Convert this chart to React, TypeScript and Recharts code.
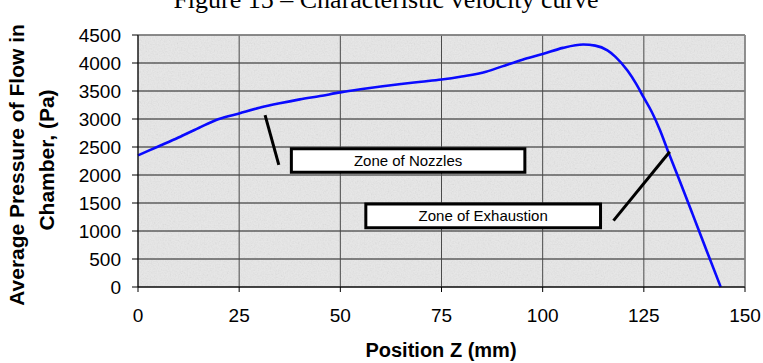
import React from 'react';
import {
  LineChart,
  Line,
  XAxis,
  YAxis,
  CartesianGrid,
  ReferenceArea,
  ReferenceLine,
} from 'recharts';

// Position along the chamber (mm) and average pressure (Pa)
const positionMm = [
  0, 5, 10, 15, 20, 25, 30, 35, 40, 45, 50, 55, 60, 65, 70, 75, 80, 86, 90, 95,
  100, 105, 110, 113, 116, 118, 121, 123, 125, 127, 129, 131, 134, 137, 140, 144,
];
const pressurePa = [
  2350, 2510, 2670, 2840, 3000, 3100, 3200, 3280, 3350, 3410, 3475, 3530, 3580,
  3625, 3665, 3705, 3760, 3845, 3940, 4060, 4160, 4270, 4330, 4310, 4225, 4110,
  3860, 3640, 3380, 3120, 2800, 2420, 1870, 1310, 745, 0,
];

const xTicks = [0, 25, 50, 75, 100, 125, 150];
const yTicks = [0, 500, 1000, 1500, 2000, 2500, 3000, 3500, 4000, 4500];

// Annotation boxes and their leader lines, in axis units
const zoneNames = ['Zone of Nozzles', 'Zone of Exhaustion'];
const zoneBoxX = [
  [37.9, 95.6],
  [56.3, 114.3],
];
const zoneBoxY = [
  [2050, 2470],
  [1060, 1480],
];
const zoneLeaders = [
  [
    { x: 31.4, y: 3070 },
    { x: 34.8, y: 2180 },
  ],
  [
    { x: 117.5, y: 1185 },
    { x: 131.4, y: 2415 },
  ],
];

const data = positionMm.map((z, i) => ({ z, p: pressurePa[i] }));

const SANS = '"Liberation Sans", Arial, sans-serif';
const SERIF = '"Liberation Serif", "Times New Roman", serif';

export default function App() {
  return (
    <div style={{ position: 'absolute', left: 0, top: 0 }}>
      <LineChart
        width={763}
        height={363}
        data={data}
        margin={{ top: 35, right: 18, bottom: 0, left: 0 }}
        style={{ fontFamily: SANS }}
      >
        <defs>
          <filter id="grain" x="0" y="0" width="100%" height="100%">
            <feTurbulence type="fractalNoise" baseFrequency="0.7" numOctaves="2" seed="4" />
            <feColorMatrix type="saturate" values="0" />
          </filter>
          <pattern id="paper" width="160" height="160" patternUnits="userSpaceOnUse">
            <rect width="160" height="160" fill="#e8e8e8" />
            <rect width="160" height="160" filter="url(#grain)" opacity="0.22" />
          </pattern>
        </defs>
        <CartesianGrid
          fill="url(#paper)"
          stroke="#1a1a1a"
          vertical={false}
          horizontalValues={yTicks}
        />
        <CartesianGrid
          stroke="#4a4a4a"
          horizontal={false}
          verticalValues={xTicks}
          fillOpacity={0}
        />
        <ReferenceLine y={4500} stroke="#8a8a8a" strokeWidth={1.5} />
        <ReferenceLine x={150} stroke="#8a8a8a" strokeWidth={1.5} />
        <XAxis
          dataKey="z"
          type="number"
          domain={[0, 150]}
          ticks={xTicks}
          height={76}
          stroke="#000"
          tickSize={5}
          tickMargin={17}
          tick={{ fill: '#000', fontSize: 19, fontFamily: SANS }}
          interval={0}
        />
        <YAxis
          type="number"
          domain={[0, 4500]}
          ticks={yTicks}
          width={138}
          stroke="#000"
          tickSize={6}
          tickMargin={11}
          tick={{ fill: '#000', fontSize: 19, fontFamily: SANS }}
          interval={0}
        />
        <Line
          type="monotone"
          dataKey="p"
          stroke="#0a0aff"
          strokeWidth={2.6}
          dot={false}
          isAnimationActive={false}
        />
        {zoneLeaders.map((seg, i) => (
          <ReferenceLine
            key={`lead-${i}`}
            segment={seg}
            stroke="#000"
            strokeWidth={3}
          />
        ))}
        {zoneNames.map((name, i) => (
          <ReferenceArea
            key={`zone-${i}`}
            x1={zoneBoxX[i][0]}
            x2={zoneBoxX[i][1]}
            y1={zoneBoxY[i][0]}
            y2={zoneBoxY[i][1]}
            fill="#fff"
            fillOpacity={1}
            stroke="#000"
            strokeWidth={3}
            label={{
              value: name,
              position: 'center',
              fill: '#000',
              fontSize: 15,
              fontFamily: SANS,
            }}
          />
        ))}
        <text
          x={386}
          y={8}
          textAnchor="middle"
          fontFamily={SERIF}
          fontSize={26}
          fill="#000"
        >
          Figure 15 – Characteristic velocity curve
        </text>
        <text
          x={441}
          y={357}
          textAnchor="middle"
          fontFamily={SANS}
          fontSize={20}
          fontWeight="bold"
          fill="#000"
        >
          Position Z (mm)
        </text>
        <text
          x={23.5}
          y={165}
          transform="rotate(-90 23.5 165)"
          textAnchor="middle"
          fontFamily={SANS}
          fontSize={21}
          fontWeight="bold"
          fill="#000"
        >
          Average Pressure of Flow in
        </text>
        <text
          x={53.5}
          y={160}
          transform="rotate(-90 53.5 160)"
          textAnchor="middle"
          fontFamily={SANS}
          fontSize={21}
          fontWeight="bold"
          fill="#000"
        >
          Chamber, (Pa)
        </text>
      </LineChart>
    </div>
  );
}
